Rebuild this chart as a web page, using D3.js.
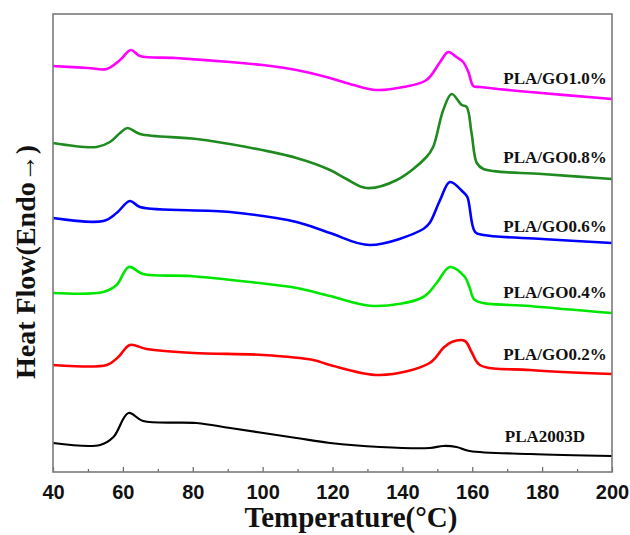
<!DOCTYPE html>
<html>
<head>
<meta charset="utf-8">
<script src="https://cdn.jsdelivr.net/npm/d3@7/dist/d3.min.js"></script>
<style>
  body { margin: 0; background: #fff; }
  svg { display: block; }
</style>
</head>
<body>
<div class="graph"><svg></svg></div>
<script>
// DSC heating curves, temperature (°C) vs stacked heat flow (arbitrary units)
const sampleNames = ['PLA/GO1.0%', 'PLA/GO0.8%', 'PLA/GO0.6%', 'PLA/GO0.4%', 'PLA/GO0.2%', 'PLA2003D']

const go10 = [[40, 40.6], [50, 40.4], [55.4, 40.3], [59.2, 41.2], [62.3, 42.2], [64.9, 41.6], [75, 41.4],
  [90.7, 41.0], [100, 40.7], [109.7, 40.2], [119.3, 39.4], [126, 38.7], [132.6, 38.2], [140.3, 38.5],
  [146.9, 39.2], [150.8, 41.0], [153.1, 42.0], [155.5, 41.5], [157.4, 41.0], [158.9, 40.0], [160.3, 38.6],
  [162.2, 38.5], [176.5, 38.0], [200, 37.3]]

const go08 = [[40, 32.9], [52.5, 32.5], [56.3, 33.0], [59.2, 33.9], [61.3, 34.4], [64.9, 33.8], [81.1, 33.3],
  [95.4, 32.5], [109.7, 31.4], [119.3, 30.2], [124, 29.3], [129.8, 28.4], [138.4, 29.2], [146.9, 31.5],
  [148.8, 32.5], [151.7, 36.2], [154.1, 37.8], [157, 36.7], [158.4, 36.5], [159.8, 33.9], [161.3, 30.9],
  [163.2, 30.3], [180, 29.8], [200, 29.3]]

const go06 = [[40, 25.4], [54.4, 25.1], [58.2, 25.9], [62, 27.1], [64.9, 26.5], [90.7, 26.0], [109.7, 25.0],
  [119.3, 23.9], [130.7, 22.7], [146, 24.3], [147.8, 24.9], [150.8, 27.2], [153.6, 29.0], [157.4, 28.0],
  [158.6, 27.5], [160.8, 24.0], [163.2, 23.7], [180, 23.3], [200, 22.9]]

const go04 = [[40, 17.9], [54.4, 18.0], [58.2, 18.7], [61.7, 20.5], [65.8, 19.8], [79.2, 19.6], [96.4, 19.0],
  [109.7, 18.4], [119.3, 17.6], [131.7, 16.6], [146, 17.5], [149.8, 18.9], [153.6, 20.5], [157.9, 19.5],
  [159.3, 18.4], [160.8, 17.2], [176.5, 16.6], [200, 15.9]]

const go02 = [[40, 10.7], [55.4, 10.7], [58.7, 11.5], [62, 12.7], [66.8, 12.3], [80.2, 11.9], [100.2, 11.7],
  [114.5, 11.2], [119.3, 10.7], [133.6, 9.7], [147.8, 10.9], [151.7, 12.4], [154.1, 13.0], [157.9, 13.1],
  [159.8, 12.0], [162.2, 10.7], [176.5, 10.2], [200, 9.8]]

const pla = [[40, 2.9], [53.5, 2.7], [57.3, 3.5], [61.6, 5.9], [65.8, 5.1], [81.1, 4.9], [90.7, 4.4],
  [109.7, 3.4], [119.3, 2.9], [133.6, 2.5], [147.8, 2.4], [151.7, 2.6], [155.5, 2.5], [159.3, 2.1],
  [176.5, 1.8], [200, 1.6]]

const seriesValues = [go10, go08, go06, go04, go02, pla]
const xTicks = [40, 60, 80, 100, 120, 140, 160, 180, 200]
const xMinorTicks = [50, 70, 90, 110, 130, 150, 170, 190]

const colors = ['#ff00ff', '#1f8a1f', '#0000ff', '#00e600', '#ff0000', '#000000']
// where each sample name sits: [right edge temperature, baseline heat flow]
const labelAnchors = [[198.5, 38.8], [198.5, 30.9], [198.5, 24.0], [198.5, 17.4], [198.5, 11.2], [192.3, 3.0]]

const width = 630
const height = 535
const margin = { top: 14, right: 18, bottom: 63, left: 53 }
const graphSize = {
  width: width - margin.left - margin.right,
  height: height - margin.top - margin.bottom
}

const svg = d3.select('.graph').select('svg')
  .attr('width', width)
  .attr('height', height)

const g = svg.append('g')
  .attr('transform', 'translate(' + margin.left + ',' + margin.top + ')')

const x = d3.scaleLinear().domain([40, 200]).range([0, graphSize.width])
const y = d3.scaleLinear().domain([0, 45.8]).range([graphSize.height, 0])

const line = d3.line()
  .x(d => x(d[0]))
  .y(d => y(d[1]))
  .curve(d3.curveCatmullRom.alpha(0.5))

g.selectAll('.curve')
  .data(seriesValues)
  .enter()
  .append('path')
  .attr('class', 'curve')
  .attr('d', line)
  .attr('fill', 'none')
  .attr('stroke', (d, i) => colors[i])
  .attr('stroke-width', (d, i) => i === 5 ? 2.2 : 2.6)
  .attr('stroke-linejoin', 'round')

g.selectAll('.sample-label')
  .data(sampleNames)
  .enter()
  .append('text')
  .attr('class', 'sample-label')
  .attr('x', (d, i) => x(labelAnchors[i][0]))
  .attr('y', (d, i) => y(labelAnchors[i][1]))
  .attr('text-anchor', 'end')
  .attr('font-family', '"Liberation Serif", "Times New Roman", serif')
  .attr('font-weight', 'bold')
  .attr('font-size', '17px')
  .attr('fill', '#111')
  .text(d => d)

// bottom axis: inward ticks, labels below
const xAxis = g.append('g')
  .attr('class', 'x-axis')
  .attr('transform', `translate(0,${graphSize.height})`)

xAxis.call(d3.axisBottom(x).tickValues(xTicks).tickSizeInner(-5).tickSizeOuter(0).tickPadding(13))
xAxis.append('g')
  .call(d3.axisBottom(x).tickValues(xMinorTicks).tickSizeInner(-3).tickSizeOuter(0).tickFormat(''))
xAxis.selectAll('.domain').remove()
xAxis.selectAll('line').attr('stroke', '#666').attr('stroke-width', 1.2)
xAxis.selectAll('text')
  .attr('font-family', '"Liberation Sans", Arial, sans-serif')
  .attr('font-weight', 'bold')
  .attr('font-size', '20px')
  .attr('fill', '#111')

g.append('rect')
  .attr('width', graphSize.width)
  .attr('height', graphSize.height)
  .attr('fill', 'none')
  .attr('stroke', '#7a7a7a')
  .attr('stroke-width', 1.6)

svg.append('text')
  .attr('x', 351)
  .attr('y', 527)
  .attr('text-anchor', 'middle')
  .attr('font-family', '"Liberation Serif", "Times New Roman", serif')
  .attr('font-weight', 'bold')
  .attr('font-size', '29px')
  .attr('fill', '#111')
  .text('Temperature(°C)')

svg.append('text')
  .attr('transform', 'translate(35,262) rotate(-90)')
  .attr('text-anchor', 'middle')
  .attr('font-family', '"Liberation Serif", "Times New Roman", serif')
  .attr('font-weight', 'bold')
  .attr('font-size', '28px')
  .attr('fill', '#111')
  .text('Heat Flow(Endo→)')
</script>
</body>
</html>
